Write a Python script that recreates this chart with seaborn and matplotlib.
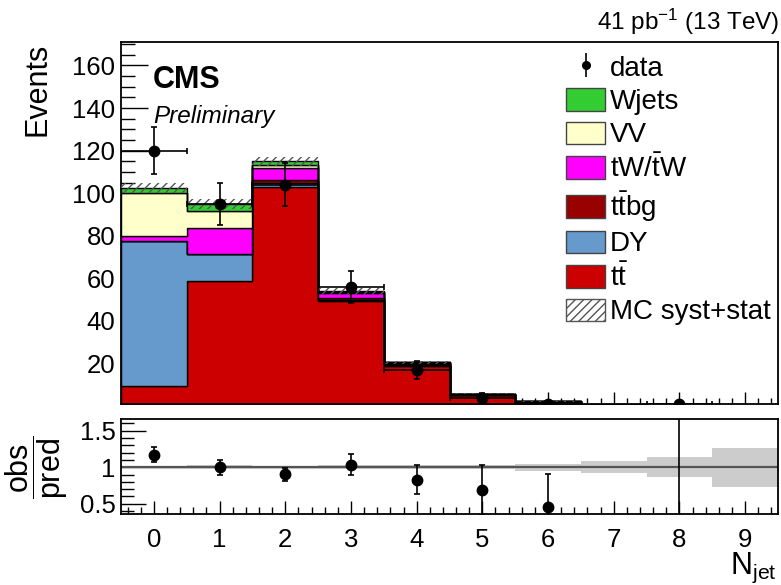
import numpy as np
import pandas as pd
import matplotlib
matplotlib.use("Agg")
import matplotlib.pyplot as plt
from matplotlib.patches import Patch
from matplotlib.lines import Line2D
from matplotlib.ticker import MultipleLocator, FixedLocator, FuncFormatter
import seaborn as sns

# ---- jet multiplicity spectrum ----
njet = np.arange(10)

ttbar = [9.6, 58.7, 102.9, 49.5, 19.0, 5.2, 1.9, 0.45, 0.08, 0.03]
dy = [67.8, 12.6, 2.0, 0.4, 0.2, 0.1, 0.0, 0.0, 0.0, 0.0]
ttbg = [0.3, 0.3, 1.2, 0.7, 0.6, 0.3, 0.2, 0.05, 0.02, 0.0]
tw = [2.3, 12.0, 5.5, 2.3, 0.5, 0.2, 0.1, 0.0, 0.0, 0.0]
vv = [19.9, 8.2, 1.8, 0.8, 0.2, 0.0, 0.0, 0.0, 0.0, 0.0]
wjets = [2.5, 3.2, 1.5, 0.3, 0.0, 0.0, 0.0, 0.0, 0.0, 0.0]
data = [120, 95, 104, 56, 17, 4, 1, 0, 1, 0]
mc_rel_unc = [0.022, 0.025, 0.018, 0.03, 0.03, 0.03, 0.05, 0.08, 0.14, 0.27]

# stacking order: first entry ends on top, last at the bottom
process_order = ["Wjets", "VV", "tW", "ttbg", "DY", "ttbar"]
process_yields = {"Wjets": wjets, "VV": vv, "tW": tw, "ttbg": ttbg, "DY": dy, "ttbar": ttbar}
process_colors = {"Wjets": "#33cc33", "VV": "#ffffcc", "tW": "#ff00ff",
                  "ttbg": "#990000", "DY": "#6699cc", "ttbar": "#cc0000"}
process_labels = {"Wjets": "Wjets", "VV": "VV", "tW": r"tW/$\bar{\mathrm{t}}$W",
                  "ttbg": r"t$\bar{\mathrm{t}}$bg", "DY": "DY", "ttbar": r"t$\bar{\mathrm{t}}$"}

df = pd.DataFrame({
    "njet": np.tile(njet, len(process_order)),
    "events": np.concatenate([process_yields[p] for p in process_order]),
    "process": np.repeat(process_order, len(njet)),
})

sns.set_style("ticks")
plt.rcParams.update({
    "font.family": ["Liberation Sans", "DejaVu Sans"],
    "mathtext.fontset": "custom",
    "mathtext.rm": "Liberation Sans",
    "mathtext.it": "Liberation Sans:italic",
    "mathtext.bf": "Liberation Sans:bold",
    "hatch.color": "#555555",
    "hatch.linewidth": 1.0,
    "axes.linewidth": 1.3,
    "axes.edgecolor": "black",
    "text.color": "black",
    "axes.labelcolor": "black",
    "xtick.color": "black",
    "ytick.color": "black",
})

W, H = 781, 585
fig = plt.figure(figsize=(W / 100, H / 100), dpi=100)
x0, x1 = 121, 778
ax = fig.add_axes([x0 / W, 1 - 404 / H, (x1 - x0) / W, (404 - 42) / H])
rax = fig.add_axes([x0 / W, 1 - 514 / H, (x1 - x0) / W, (514 - 419) / H])

# stacked simulation
sns.histplot(data=df, x="njet", weights="events", hue="process", hue_order=process_order,
             palette=process_colors, multiple="stack", discrete=True, element="step",
             alpha=1, edgecolor="black", linewidth=1.0, legend=False, ax=ax)

total = np.sum([np.array(process_yields[p]) for p in process_order], axis=0)
rel = np.array(mc_rel_unc)
ax.bar(njet, 2 * total * rel, bottom=total * (1 - rel), width=1.0, fill=False,
       hatch="////", linewidth=0, edgecolor="#555555", zorder=3)

data_arr = np.array(data, dtype=float)
mask = data_arr > 0
ax.errorbar(njet[mask], data_arr[mask], xerr=0.5, yerr=np.sqrt(data_arr[mask]), fmt="o",
            color="black", ms=7.5, capsize=2.5, elinewidth=1.2, capthick=1.2, zorder=5)

ax.set_xlim(-0.5, 9.5)
ax.set_ylim(1, 171)
ax.set_xlabel("")
ax.set_ylabel("")
ax.yaxis.set_major_locator(FixedLocator(np.arange(20, 161, 20)))
ax.yaxis.set_minor_locator(MultipleLocator(5))
ax.xaxis.set_major_locator(MultipleLocator(1))
ax.xaxis.set_minor_locator(MultipleLocator(0.2))
ax.tick_params(axis="y", which="major", direction="in", length=19.5, width=1.0, labelsize=18.5, pad=4)
ax.tick_params(axis="y", which="minor", direction="in", length=10, width=1.0)
ax.tick_params(axis="x", which="major", direction="in", length=9, width=1.0, labelbottom=False)
ax.tick_params(axis="x", which="minor", direction="in", length=4.3, width=1.0)
ax.tick_params(top=False, right=False, which="both")
for s in ax.spines.values():
    s.set_visible(True)

# legend
handles = [(Line2D([0], [0], color="black", marker="|", ms=17, mew=1.2, linestyle="none"),
            Line2D([0], [0], color="black", marker="o", ms=5.5, linestyle="none"))]
labels = ["data"]
for p in process_order:
    handles.append(Patch(facecolor=process_colors[p], edgecolor="#444444", linewidth=1.0))
    labels.append(process_labels[p])
handles.append(Patch(facecolor="white", edgecolor="#555555", hatch="////", linewidth=1.0))
labels.append("MC syst+stat")
ax.legend(handles, labels, loc="upper left", bbox_to_anchor=(566 / W, 1 - 55 / H),
          bbox_transform=fig.transFigure, frameon=False, fontsize=20, handlelength=1.41,
          handleheight=0.86, labelspacing=0.235, handletextpad=0.18, borderpad=0, borderaxespad=0)

# ratio panel
ratio_band_lo = 1 - rel
rax.bar(njet, 2 * rel, bottom=ratio_band_lo, width=1.0, color="#cccccc", linewidth=0, zorder=1)
rax.axhline(1.0, color="#555555", lw=1.6, zorder=2)
ratio = data_arr[mask] / total[mask]
ratio_err = np.sqrt(data_arr[mask]) / total[mask]
rax.errorbar(njet[mask], ratio, yerr=ratio_err, fmt="o", color="black", ms=7.5,
             capsize=2.5, elinewidth=1.2, capthick=1.2, zorder=5)
rax.set_xlim(-0.5, 9.5)
rax.set_ylim(0.36, 1.66)
rax.yaxis.set_major_locator(FixedLocator([0.5, 1.0, 1.5]))
rax.yaxis.set_minor_locator(MultipleLocator(0.1))
rax.yaxis.set_major_formatter(FuncFormatter(lambda v, _: f"{v:g}"))
rax.xaxis.set_major_locator(MultipleLocator(1))
rax.xaxis.set_minor_locator(MultipleLocator(0.2))
rax.tick_params(axis="y", which="major", direction="in", length=18, width=1.0, labelsize=18.5, pad=4)
rax.tick_params(axis="y", which="minor", direction="in", length=9, width=1.0)
rax.tick_params(axis="x", which="major", direction="in", length=9.4, width=1.0, labelsize=18.5, pad=10)
rax.tick_params(axis="x", which="minor", direction="in", length=5, width=1.0)
rax.tick_params(top=False, right=False, which="both")

# labels and annotations
fig.text(37 / W, 1 - 43 / H, "Events", rotation=90, ha="center", va="top", fontsize=22)
fig.text(37 / W, 1 - 467 / H, r"$\dfrac{\mathrm{obs}}{\mathrm{pred}}$", rotation=90,
         ha="center", va="center", fontsize=22)
fig.text(777 / W, 1 - 574 / H, r"N$_{\mathrm{jet}}$", ha="right", va="baseline", fontsize=22)
fig.text(153 / W, 1 - 88 / H, "CMS", fontweight="bold", fontsize=22, ha="left", va="baseline")
fig.text(153 / W, 1 - 123 / H, "Preliminary", fontstyle="italic", fontsize=17.5, ha="left", va="baseline")
fig.text(779 / W, 1 - 30 / H, r"41 pb$^{-1}$ (13 TeV)", ha="right", va="baseline", fontsize=17.5)

fig.savefig("out.png", dpi=100, facecolor="white")
